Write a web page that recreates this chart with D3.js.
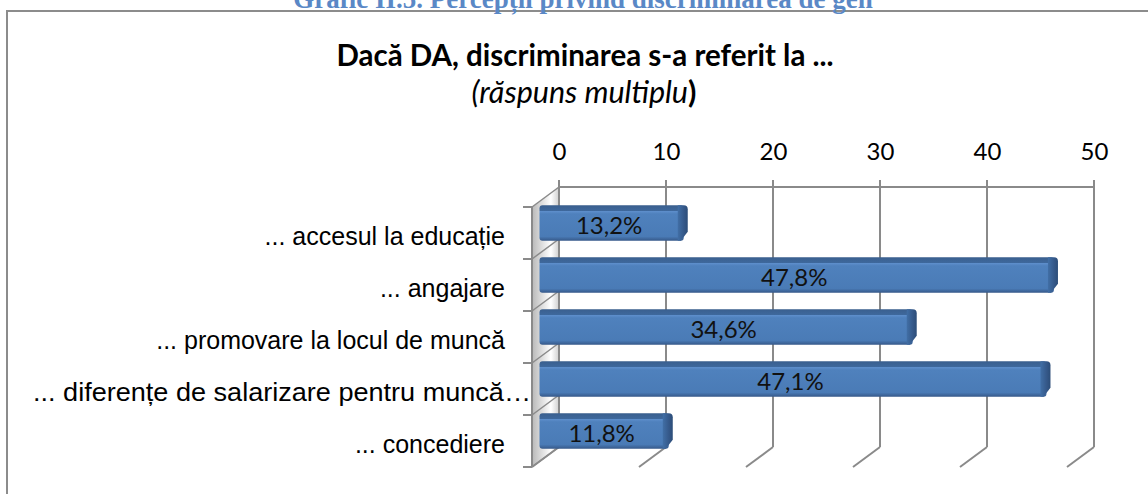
<!DOCTYPE html>
<html>
<head>
<meta charset="utf-8">
<script src="https://cdn.jsdelivr.net/npm/d3@7"></script>
<style>
  html, body { margin: 0; padding: 0; background: #fff; }
  svg { display: block; }
</style>
</head>
<body>
<svg id="chart" width="1148" height="494"></svg>
<script>
// ---- data ----
const categories = [
  "... accesul la educație",
  "... angajare",
  "... promovare la locul de muncă",
  "... diferențe de salarizare pentru muncă…",
  "... concediere"
];
const values = [13.2, 47.8, 34.6, 47.1, 11.8];
const valueLabels = ["13,2%", "47,8%", "34,6%", "47,1%", "11,8%"];
const tickValues = [0, 10, 20, 30, 40, 50];
const headerText = "Grafic II.5. Percepții privind discriminarea de gen";
const titleText = "Dacă DA, discriminarea s-a referit la ...";
const subtitleItalic = "(răspuns multiplu";
const subtitleTail = ")";

// ---- layout ----
const svg = d3.select("#chart");
const W = 1148, H = 494;
const depthX = -27, depthY = 20;            // back plane -> front plane
const x = d3.scaleLinear().domain([0, 50]).range([559, 1094]);   // back plane
const y = d3.scaleBand().domain(categories).range([187, 447])
  .paddingInner(0.32).paddingOuter(0.16);   // back plane
const yTop = 187, yBot = 447;
const grey = "#8a8a8a";

const defs = svg.append("defs");
const wallGrad = defs.append("linearGradient").attr("id", "wallGrad")
  .attr("x1", 0).attr("y1", 0).attr("x2", 1).attr("y2", 0);
[["0%", "#b8b8b8"], ["45%", "#e6e6e6"], ["70%", "#ffffff"], ["100%", "#cfcfcf"]]
  .forEach(s => wallGrad.append("stop").attr("offset", s[0]).attr("stop-color", s[1]));

const barGrad = defs.append("linearGradient").attr("id", "barGrad")
  .attr("x1", 0).attr("y1", 0).attr("x2", 0).attr("y2", 1);
[["0%", "#3a5f8e"], ["15%", "#3e689c"], ["17%", "#5d8ecb"], ["24%", "#4f81bd"],
 ["88%", "#4a7bb6"], ["100%", "#36598a"]]
  .forEach(s => barGrad.append("stop").attr("offset", s[0]).attr("stop-color", s[1]));

const capGrad = defs.append("linearGradient").attr("id", "capGrad")
  .attr("x1", 0).attr("y1", 0).attr("x2", 1).attr("y2", 0);
[["0%", "#416fa6"], ["60%", "#35598a"], ["100%", "#2c4d78"]]
  .forEach(s => capGrad.append("stop").attr("offset", s[0]).attr("stop-color", s[1]));

// ---- frame ----
svg.append("rect").attr("x", 7).attr("y", 11).attr("width", W + 10).attr("height", H + 10)
  .attr("fill", "none").attr("stroke", "#8c8c8c").attr("stroke-width", 2);

// header (partially cut at top, as in the source page)
svg.append("text").attr("x", 583).attr("y", 8).attr("text-anchor", "middle")
  .attr("font-family", "'Liberation Serif', serif").attr("font-weight", "bold")
  .attr("font-size", 27).attr("fill", "#5a88c6").text(headerText);

// title
svg.append("text").attr("x", 585).attr("y", 66).attr("text-anchor", "middle")
  .attr("font-family", "Lato, sans-serif").attr("font-weight", "bold")
  .attr("font-size", 29.5).attr("fill", "#000").text(titleText);
const sub = svg.append("text").attr("x", 584).attr("y", 103).attr("text-anchor", "middle")
  .attr("font-family", "Lato, sans-serif").attr("font-size", 30.5).attr("fill", "#000");
sub.append("tspan").attr("font-style", "italic").text(subtitleItalic);
sub.append("tspan").attr("font-weight", "bold").text(subtitleTail);

// ---- left wall ----
const x0 = x(0);
svg.append("path")
  .attr("d", `M${x0 + depthX},${yTop + depthY}L${x0},${yTop}L${x0},${yBot}L${x0 + depthX},${yBot + depthY}Z`)
  .attr("fill", "url(#wallGrad)").attr("stroke", "none");

// category separators on side wall
const bounds = d3.range(categories.length + 1).map(i => yTop + i * y.step());
svg.selectAll("line.sideGrid").data(bounds).join("line").attr("class", "sideGrid")
  .attr("x1", x0 + depthX).attr("y1", d => d + depthY)
  .attr("x2", x0).attr("y2", d => d)
  .attr("stroke", grey).attr("stroke-width", 1.5);

// ---- back wall grid ----
svg.append("line").attr("x1", x0).attr("x2", x(50)).attr("y1", yTop).attr("y2", yTop)
  .attr("stroke", grey).attr("stroke-width", 2);
svg.selectAll("line.grid").data(tickValues).join("line").attr("class", "grid")
  .attr("x1", d => x(d)).attr("x2", d => x(d)).attr("y1", yTop - 7).attr("y2", yBot)
  .attr("stroke", grey).attr("stroke-width", 2);
svg.selectAll("line.floor").data(tickValues).join("line").attr("class", "floor")
  .attr("x1", d => x(d)).attr("y1", yBot)
  .attr("x2", d => x(d) + depthX).attr("y2", yBot + depthY)
  .attr("stroke", grey).attr("stroke-width", 2);

// front axis line with ticks
svg.append("line").attr("x1", x0 + depthX).attr("x2", x0 + depthX)
  .attr("y1", yTop + depthY).attr("y2", yBot + depthY)
  .attr("stroke", grey).attr("stroke-width", 2);
svg.selectAll("line.ytick").data(bounds).join("line").attr("class", "ytick")
  .attr("x1", x0 + depthX - 9).attr("x2", x0 + depthX)
  .attr("y1", d => d + depthY).attr("y2", d => d + depthY)
  .attr("stroke", grey).attr("stroke-width", 2);

// tick labels (top axis)
const axis = d3.axisTop(x).tickValues(tickValues).tickSize(0).tickPadding(0)
  .tickFormat(d3.format("d"));
const gAxis = svg.append("g").attr("transform", `translate(0,${160})`).call(axis);
gAxis.select(".domain").remove();
gAxis.selectAll("text").attr("font-family", "Lato, sans-serif").attr("font-size", 24)
  .attr("fill", "#000").attr("dy", 0);

// category labels
const longIdx = categories.length - 2;
svg.selectAll("text.cat").data(categories).join("text").attr("class", "cat")
  .attr("x", (d, i) => i === longIdx ? 33 : 505)
  .attr("text-anchor", (d, i) => i === longIdx ? "start" : "end")
  .attr("y", d => y(d) + y.bandwidth() / 2 + depthY + 3)
  .attr("dy", "0.35em")
  .attr("font-family", "'Liberation Sans', Arial, sans-serif").attr("font-size", 25)
  .attr("fill", "#000")
  .each(function(d, i) {
    if (i === longIdx) d3.select(this).attr("textLength", 498).attr("lengthAdjust", "spacingAndGlyphs");
  })
  .text(d => d);

// ---- bars (mid depth) ----
const mx = depthX / 2, my = depthY / 2;
const bars = svg.selectAll("g.bar").data(categories.map((c, i) => ({c, v: values[i], l: valueLabels[i]})))
  .join("g").attr("class", "bar");
bars.each(function(d) {
  const g = d3.select(this);
  const bx0 = x(0) + mx - 6;
  const bx1 = x(d.v) + mx + 1;
  const by = y(d.c) + my;
  const bh = y.bandwidth();
  g.append("rect").attr("x", bx0).attr("y", by).attr("width", bx1 - bx0 - 4).attr("height", bh)
    .attr("rx", 3).attr("fill", "url(#barGrad)");
  // end cap
  g.append("path")
    .attr("d", `M${bx1 - 10},${by}L${bx1 - 4},${by}Q${bx1},${by} ${bx1},${by + 4}L${bx1},${by + bh - 9}L${bx1 - 7},${by + bh}L${bx1 - 10},${by + bh}Z`)
    .attr("fill", "url(#capGrad)");
  g.append("text").attr("x", (bx0 + bx1 - 9) / 2).attr("y", by + bh / 2 + 3)
    .attr("dy", "0.35em").attr("text-anchor", "middle")
    .attr("font-family", "Lato, sans-serif").attr("font-size", 24).attr("fill", "#111")
    .text(d.l);
});
</script>
</body>
</html>
